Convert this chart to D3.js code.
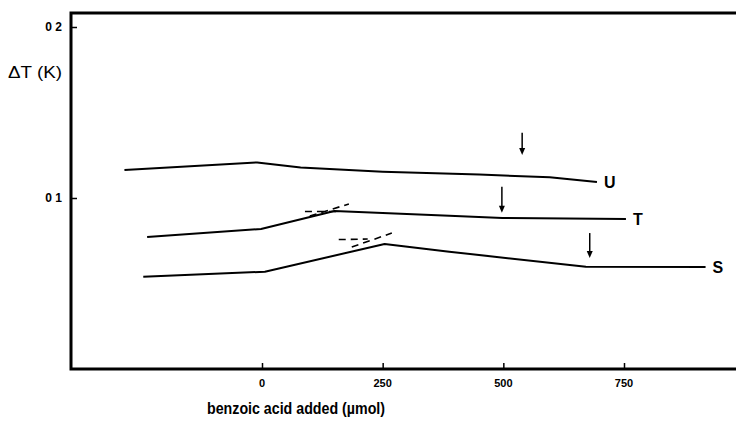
<!DOCTYPE html>
<html lang="en">
<head>
<meta charset="UTF-8">
<title>Benzoic acid titration</title>
<script src="https://d3js.org/d3.v7.min.js"></script>
<style>
    body { margin: 0; background: #fff; }
    svg { display: block; }
    .curve { fill: none; stroke: #000; stroke-width: 2px; stroke-linejoin: round; }
    .tangent { fill: none; stroke: #000; stroke-width: 1.6px; stroke-dasharray: 7 5; }
    .frame { stroke: #000; stroke-width: 3px; fill: none; }
    .lbl { font-family: "Liberation Sans", Arial, sans-serif; font-weight: bold; fill: #000; }
</style>
</head>
<body>
<svg width="736" height="425"></svg>
<script>
    // benzoic acid added (µmol) vs ΔT (K)
    const curveU = [[-285, 0.1164], [-10, 0.1208], [80, 0.1178], [250, 0.1154], [450, 0.1137], [596, 0.1121], [694, 0.1094]];
    const curveT = [[-238, 0.0772], [-2, 0.0819], [150, 0.0924], [250, 0.0912], [388, 0.0896], [498, 0.0883], [754, 0.0877]];
    const curveS = [[-246, 0.0540], [6, 0.0569], [254, 0.0731], [388, 0.0686], [671, 0.0598], [919, 0.0596]];
    const curveNames = ['U', 'T', 'S'];

    // dashed tangents near the breaks
    const tangents = [
        [[89, 0.0921], [157, 0.0921]],
        [[99, 0.0895], [180, 0.0965]],
        [[159, 0.0757], [219, 0.0760]],
        [[186, 0.0713], [269, 0.0795]]
    ];

    // end-point arrows: x, top value, bottom value
    const arrows = [[539, 0.1382, 0.1251], [497, 0.1066, 0.0914], [679, 0.0795, 0.0649]];

    const xTicks = [0, 250, 500, 750];
    const yTicks = [0.1, 0.2];
    const yTickLabels = ['0 1', '0 2'];

    const svg = d3.select('svg');
    const mLeft = 71, mRight = 736, mTop = 13, mBottom = 369;

    const x = d3.scaleLinear().domain([0, 750]).range([262, 624]);
    const y = d3.scaleLinear().domain([0, 0.2]).range([mBottom, 27]);

    const line = d3.line().x(d => x(d[0])).y(d => y(d[1]));

    // frame: left, top, bottom
    svg.append('path').attr('class', 'frame')
        .attr('d', `M${mRight},${mTop}H${mLeft}V${mBottom}H${mRight}`);

    // x ticks pointing up
    const xAxis = d3.axisTop(x).tickValues(xTicks).tickSize(6).tickFormat('');
    const gx = svg.append('g').attr('transform', `translate(0,${mBottom})`).call(xAxis);
    gx.select('.domain').remove();
    gx.selectAll('line').attr('stroke-width', 1.5);
    svg.selectAll('.xlab').data(xTicks).join('text')
        .attr('class', 'lbl')
        .attr('x', d => x(d)).attr('y', 387)
        .attr('text-anchor', 'middle').attr('font-size', 11)
        .text(d => d);

    // y ticks pointing right
    const yAxis = d3.axisRight(y).tickValues(yTicks).tickSize(6).tickFormat('');
    const gy = svg.append('g').attr('transform', `translate(${mLeft},0)`).call(yAxis);
    gy.select('.domain').remove();
    gy.selectAll('line').attr('stroke-width', 1.5);
    svg.selectAll('.ylab').data(yTicks).join('text')
        .attr('class', 'lbl')
        .attr('x', 62).attr('y', d => y(d) + 4)
        .attr('text-anchor', 'end').attr('font-size', 12)
        .text((d, i) => yTickLabels[i]);

    // curves
    [curveU, curveT, curveS].forEach((c, i) => {
        svg.append('path').attr('class', 'curve').attr('d', line(c));
        const last = c[c.length - 1];
        svg.append('text').attr('class', 'lbl')
            .attr('x', x(last[0]) + 7).attr('y', y(last[1]) + 6)
            .attr('font-size', 16)
            .text(curveNames[i]);
    });

    tangents.forEach(t => svg.append('path').attr('class', 'tangent').attr('d', line(t)));

    // arrows
    arrows.forEach(a => {
        const ax = x(a[0]), y0 = y(a[1]), y1 = y(a[2]);
        svg.append('line').attr('x1', ax).attr('x2', ax).attr('y1', y0).attr('y2', y1 - 4)
            .attr('stroke', '#000').attr('stroke-width', 1.5);
        svg.append('path').attr('d', `M${ax - 3},${y1 - 7}L${ax},${y1}L${ax + 3},${y1 - 7}Z`)
            .attr('fill', '#000');
    });

    // axis titles
    svg.append('text').attr('x', 8).attr('y', 78)
        .attr('font-family', '"Liberation Sans", Arial, sans-serif')
        .attr('font-size', 16).attr('textLength', 54).attr('lengthAdjust', 'spacingAndGlyphs')
        .text('ΔT (K)');
    svg.append('text').attr('class', 'lbl').attr('x', 207).attr('y', 414)
        .attr('font-size', 16).attr('textLength', 178).attr('lengthAdjust', 'spacingAndGlyphs')
        .text('benzoic acid added (µmol)');
</script>
</body>
</html>
